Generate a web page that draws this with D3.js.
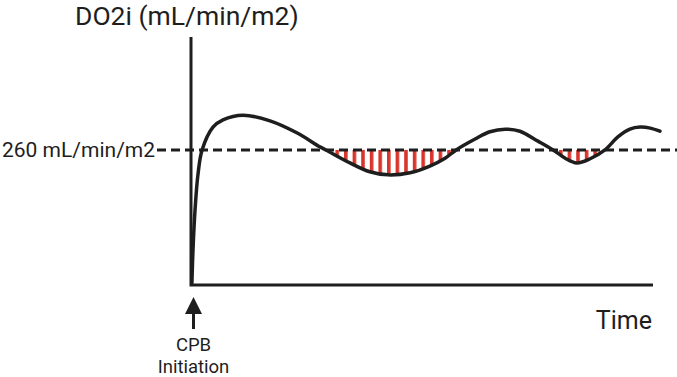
<!DOCTYPE html>
<html>
<head>
<meta charset="utf-8">
<script src="https://cdn.jsdelivr.net/npm/d3@7"></script>
<style>
  html, body { margin: 0; padding: 0; background: #fff; }
  svg { display: block; font-family: Roboto, "Noto Sans", sans-serif; }
</style>
</head>
<body>
<svg id="chart" width="677" height="377"></svg>
<script>
// Data (time in arbitrary units, DO2i in mL/min/m2)
const timePts = [0.2, 0.43, 0.87, 1.5, 2.4, 4.76, 6.93, 11.26, 17.1, 22.9, 27.9, 29.2, 34.4, 38.7, 42.6, 47.4, 51.7, 55.0, 57.4, 61.5, 64.7, 68.0, 71.2, 75.1, 78.4, 81.0, 83.5, 86.4, 89.6, 92.4, 95.0, 97.2, 99.4, 101.5];
const do2iPts = [4, 67, 144, 212, 260, 304, 318, 327, 316, 293, 266, 260, 235, 218, 212, 216, 229, 244, 260, 281, 295, 300, 296, 277, 260, 244, 235, 243, 260, 285, 300, 304, 302, 296];
const threshold = 260;
const thresholdLabel = "260 mL/min/m2";
// Windows where DO2i dips under the threshold (shaded)
const deficitStart = [29.2, 78.4];
const deficitEnd = [57.4, 89.6];

const yTitle = "DO2i (mL/min/m2)";
const xTitle = "Time";
const markerLabel = ["CPB", "Initiation"];

const svg = d3.select('#chart');
const ink = '#1e1e1e';
const red = '#d8362c';

const margin = { left: 191, right: 24, top: 37, bottom: 92 };
const W = 677, H = 377;

const xScale = d3.scaleLinear().domain([0, 100]).range([margin.left, W - margin.right]);
const yScale = d3.scaleLinear().domain([0, 462]).range([285, 45]);

const data = timePts.map((t, i) => ({ t, v: do2iPts[i] }));
const curve = d3.curveCatmullRom.alpha(0.5);

// pattern of vertical red stripes
const defs = svg.append('defs');
const pat = defs.append('pattern')
  .attr('id', 'stripes')
  .attr('patternUnits', 'userSpaceOnUse')
  .attr('x', 0).attr('y', 0)
  .attr('width', 8.6).attr('height', 10);
pat.append('rect')
  .attr('x', 0).attr('y', 0)
  .attr('width', 3.6).attr('height', 10)
  .attr('fill', red);

// clip: everything above the curve
const aboveCurve = d3.area()
  .x(d => xScale(d.t))
  .y0(d => yScale(d.v))
  .y1(0)
  .curve(curve);
defs.append('clipPath').attr('id', 'above-curve')
  .append('path').datum(data).attr('d', aboveCurve);

// shaded deficit regions
svg.append('g').attr('clip-path', 'url(#above-curve)')
  .selectAll('rect')
  .data(deficitStart.map((s, i) => [s, deficitEnd[i]]))
  .join('rect')
  .attr('x', d => xScale(d[0]))
  .attr('width', d => xScale(d[1]) - xScale(d[0]))
  .attr('y', yScale(threshold))
  .attr('height', yScale(0) - yScale(threshold))
  .attr('fill', 'url(#stripes)');

// threshold dashed line
svg.append('line')
  .attr('x1', 157).attr('x2', W)
  .attr('y1', yScale(threshold)).attr('y2', yScale(threshold))
  .attr('stroke', ink)
  .attr('stroke-width', 3)
  .attr('stroke-dasharray', '9 5');

svg.append('text')
  .attr('x', 2)
  .attr('y', yScale(threshold) + 7)
  .attr('font-size', 21)
  .attr('fill', ink)
  .text(thresholdLabel);

// axes (plain lines, no ticks)
svg.append('path')
  .attr('d', `M${xScale(0)},${margin.top} V${yScale(0)} H${xScale(100)}`)
  .attr('fill', 'none')
  .attr('stroke', ink)
  .attr('stroke-width', 3);

// the curve
const line = d3.line()
  .x(d => xScale(d.t))
  .y(d => yScale(d.v))
  .curve(curve);

svg.append('path')
  .datum(data)
  .attr('fill', 'none')
  .attr('stroke', ink)
  .attr('stroke-width', 3.5)
  .attr('stroke-linecap', 'round')
  .attr('d', line);

// titles
svg.append('text')
  .attr('x', 75).attr('y', 25)
  .attr('font-size', 26.5)
  .attr('fill', ink)
  .text(yTitle);

svg.append('text')
  .attr('x', 652).attr('y', 329)
  .attr('text-anchor', 'end')
  .attr('font-size', 25)
  .attr('fill', ink)
  .text(xTitle);

// CPB initiation arrow
const ax = xScale(0) + 2.5;
svg.append('path')
  .attr('d', `M${ax},297 L${ax + 8.5},314 L${ax - 8.5},314 Z`)
  .attr('fill', ink);
svg.append('line')
  .attr('x1', ax).attr('x2', ax)
  .attr('y1', 312).attr('y2', 329)
  .attr('stroke', ink).attr('stroke-width', 3);

svg.append('text')
  .attr('text-anchor', 'middle')
  .attr('font-size', 18.5)
  .attr('fill', ink)
  .selectAll('tspan')
  .data(markerLabel)
  .join('tspan')
  .attr('x', ax)
  .attr('y', (d, i) => i === 0 ? 351 : 373)
  .text(d => d);
</script>
</body>
</html>
